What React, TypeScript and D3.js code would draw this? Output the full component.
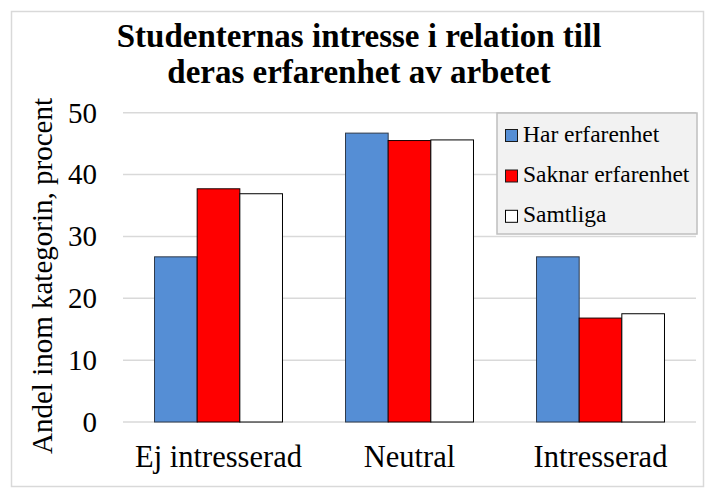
import React from "react";
import * as d3 from "d3";

const categories = ["Ej intresserad", "Neutral", "Intresserad"];
const seriesNames = ["Har erfarenhet", "Saknar erfarenhet", "Samtliga"];
const harErfarenhet = [26.7, 46.7, 26.7];
const saknarErfarenhet = [37.7, 45.5, 16.8];
const samtliga = [36.9, 45.6, 17.5];
const yTicks = [0, 10, 20, 30, 40, 50];
const titleLines = ["Studenternas intresse i relation till", "deras erfarenhet av arbetet"];
const yAxisTitle = "Andel inom kategorin, procent";

const seriesValues = [harErfarenhet, saknarErfarenhet, samtliga];
const colors = ["#558ed5", "#ff0000", "#ffffff"];
const strokes = ["#2f3a4a", "#1a0000", "#000000"];

const W = 709;
const H = 490;
const fs = { fontFamily: `"Liberation Serif"` };

export default function App() {
  const x = d3.scaleBand<string>().domain(categories).range([123, 696]).paddingInner(0.33).paddingOuter(0.165);
  const xs = d3.scaleBand<string>().domain(seriesNames).range([0, x.bandwidth()]);
  const y = d3.scaleLinear().domain([0, 50]).range([422, 112.7]);

  const legendX = 497;
  const legendY = 113;
  const legendRows = [141.5, 182, 222.3];

  return (
    <svg width={W} height={H} style={{ position: "absolute", left: 0, top: 0, background: "#fff" }}>
      <rect x={11.5} y={11.5} width={692} height={475} fill="#fff" stroke="#d9d9d9" strokeWidth={1.5} />
      {titleLines.map((t, i) => (
        <text key={i} x={359} y={46.7 + i * 36} textAnchor="middle" fontWeight="bold" fontSize={33} fill="#000" style={fs}>
          {t}
        </text>
      ))}
      {yTicks.map((t) => (
        <g key={t}>
          <line x1={123} x2={696} y1={y(t)} y2={y(t)} stroke="#d9d9d9" strokeWidth={1.5} />
          <text x={97} y={y(t)} dy="0.34em" textAnchor="end" fontSize={29} fill="#000" style={fs}>
            {String(t)}
          </text>
        </g>
      ))}
      {categories.map((c, ci) => (
        <g key={c} transform={`translate(${x(c)},0)`}>
          {seriesNames.map((s, si) => {
            const v = seriesValues[si][ci];
            return (
              <rect
                key={s}
                x={xs(s)}
                y={y(v)}
                width={xs.bandwidth()}
                height={y(0) - y(v)}
                fill={colors[si]}
                stroke={strokes[si]}
                strokeWidth={1}
              />
            );
          })}
        </g>
      ))}
      {categories.map((c) => (
        <text key={c} x={(x(c) as number) + x.bandwidth() / 2} y={467.3} textAnchor="middle" fontSize={30.5} fill="#000" style={fs}>
          {c}
        </text>
      ))}
      <text transform={`translate(52,276) rotate(-90)`} textAnchor="middle" fontSize={29} fill="#000" style={fs}>
        {yAxisTitle}
      </text>
      <rect x={legendX} y={legendY} width={200} height={121} fill="#f2f2f2" stroke="#bfbfbf" strokeWidth={1.5} />
      {seriesNames.map((s, i) => (
        <g key={s}>
          <rect x={505.5} y={legendRows[i] - 12} width={12} height={12} fill={colors[i]} stroke={i === 2 ? "#000" : "#1a1a1a"} strokeWidth={1} />
          <text x={523} y={legendRows[i]} fontSize={23.5} fill="#000" style={fs}>
            {s}
          </text>
        </g>
      ))}
    </svg>
  );
}
